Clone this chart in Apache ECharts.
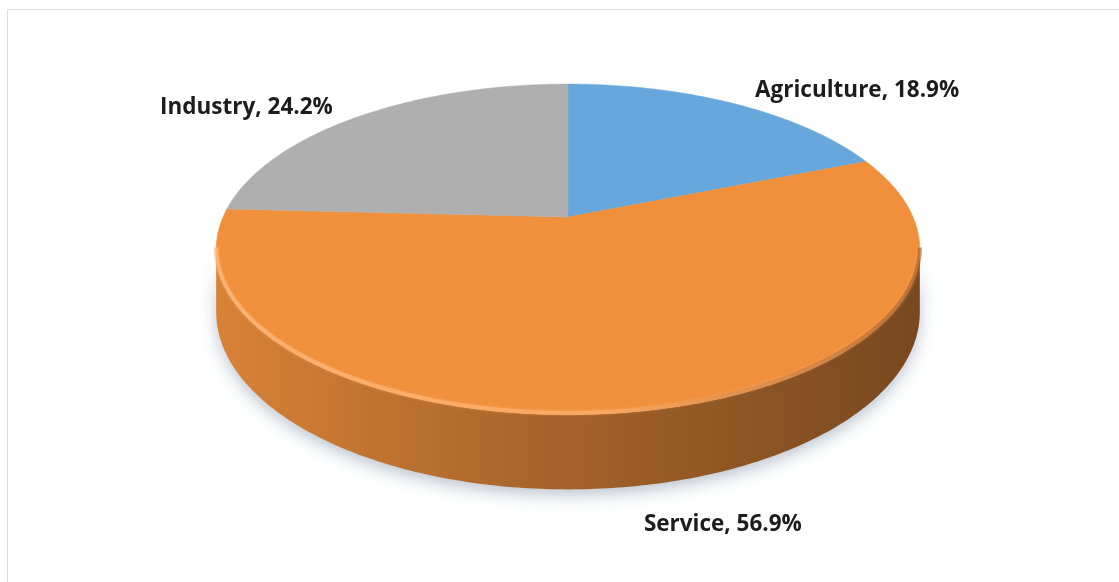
<!DOCTYPE html>
<html>
<head>
<meta charset="utf-8">
<script src="https://cdn.jsdelivr.net/npm/echarts@6/dist/echarts.min.js"></script>
<style>
  html, body { margin: 0; padding: 0; background: #ffffff; }
  #chart { width: 1119px; height: 582px; }
</style>
</head>
<body>
<div id="chart"></div>
<script>
// Sector shares (percent), drawn clockwise from 12 o'clock
const categories = ['Agriculture', 'Service', 'Industry'];
const shares = [18.9, 56.9, 24.2];
const sliceColors = ['#68A7DB', '#F0903D', '#AFAFAF'];

// Tilted-disc view: centre, radii, perspective factor and wall depth
const VIEW = { cx: 568, cy: 217, rx: 345, ry: 159, k: 0.196, depth: 60 };

// Label placement relative to each slice's outer rim point
const LABEL_LAYOUT = {
  Agriculture: { dx: 21, dy: -13, align: 'left' },
  Service: { dx: 84, dy: 39, align: 'center' },
  Industry: { dx: -27, dy: -9, align: 'right' }
};

function project(theta, r, drop) {
  const u = r * Math.sin(theta), v = -r * Math.cos(theta);
  const w = 1 - VIEW.k * v;
  return [VIEW.cx + VIEW.rx * u / w, VIEW.cy + VIEW.ry * v / w + (drop ? VIEW.depth / w : 0)];
}

function arc(a0, a1, drop) {
  const pts = [];
  const n = Math.max(2, Math.ceil((a1 - a0) / (Math.PI / 240)));
  for (let i = 0; i <= n; i++) pts.push(project(a0 + (a1 - a0) * i / n, 1, drop));
  return pts;
}

function shade(hex, f) {
  const n = parseInt(hex.slice(1), 16);
  const c = [(n >> 16) & 255, (n >> 8) & 255, n & 255].map(x => Math.round(x * f));
  return 'rgb(' + c.join(',') + ')';
}

const total = shares.reduce((s, v) => s + v, 0);
const startAngles = [];
shares.reduce((acc, v) => { startAngles.push(acc / total * Math.PI * 2); return acc + v; }, 0);

// Front wall is visible between the two horizontal extremes of the rim
const SIDE_R = Math.acos(-VIEW.k);
const SIDE_L = Math.PI * 2 - SIDE_R;
const leftX = VIEW.cx - VIEW.rx / Math.sqrt(1 - VIEW.k * VIEW.k);
const rightX = VIEW.cx + VIEW.rx / Math.sqrt(1 - VIEW.k * VIEW.k);

function renderSlice(params, api) {
  const i = params.dataIndex;
  const val = api.value(0);
  const a0 = startAngles[i];
  const a1 = a0 + val / total * Math.PI * 2;
  const color = sliceColors[i];
  const children = [];

  // outer wall
  const s0 = Math.max(a0, SIDE_R), s1 = Math.min(a1, SIDE_L);
  if (s1 > s0) {
    const top = arc(s0, s1, false);
    const bottom = arc(s0, s1, true).reverse();
    children.push({
      type: 'polygon',
      z2: 1,
      shape: { points: top.concat(bottom) },
      style: {
        fill: {
          type: 'linear', x: leftX, y: 0, x2: rightX, y2: 0, global: true,
          colorStops: [
            { offset: 0, color: shade(color, 0.9) },
            { offset: 0.5, color: shade(color, 0.68) },
            { offset: 1, color: shade(color, 0.5) }
          ]
        },
        shadowBlur: 16,
        shadowOffsetY: 6,
        shadowColor: 'rgba(70,90,120,0.35)'
      }
    });
    // rounded rim catching the light
    children.push({
      type: 'polyline',
      z2: 12,
      shape: { points: top.map(p => [p[0], p[1] - 2]) },
      style: {
        fill: null,
        lineWidth: 4,
        shadowBlur: 3,
        shadowColor: 'rgba(255,190,130,0.6)',
        stroke: {
          type: 'linear', x: leftX, y: 0, x2: rightX, y2: 0, global: true,
          colorStops: [
            { offset: 0, color: 'rgba(255,185,125,0.7)' },
            { offset: 0.55, color: 'rgba(255,180,115,0.5)' },
            { offset: 1, color: 'rgba(150,80,30,0.55)' }
          ]
        }
      }
    });
  }

  // top face
  const face = [[VIEW.cx, VIEW.cy]].concat(arc(a0, a1, false));
  children.push({
    type: 'polygon',
    z2: 10,
    shape: { points: face },
    style: { fill: color, stroke: color, lineWidth: 0.5 }
  });

  // label
  const mid = (a0 + a1) / 2;
  const name = categories[i];
  const lay = LABEL_LAYOUT[name];
  const rim = project(mid, 1, Math.cos(mid) < 0);
  children.push({
    type: 'text',
    z2: 20,
    x: rim[0] + lay.dx,
    y: rim[1] + lay.dy,
    style: {
      text: name + ', ' + val.toFixed(1) + '%',
      fill: '#1c1c1c',
      font: 'bold 22.5px "Open Sans", sans-serif',
      align: lay.align,
      verticalAlign: 'middle'
    }
  });

  return { type: 'group', children: children };
}

const chart = echarts.init(document.getElementById('chart'), null, { renderer: 'canvas' });
chart.setOption({
  backgroundColor: '#ffffff',
  animation: false,
  graphic: [{
    type: 'rect',
    shape: { x: 7.5, y: 9.5, width: 1300, height: 700 },
    style: { fill: null, stroke: '#dcdcdc', lineWidth: 1 },
    silent: true
  }],
  series: [{
    type: 'custom',
    coordinateSystem: 'none',
    renderItem: renderSlice,
    data: shares.map((v, i) => ({ name: categories[i], value: [v] }))
  }]
});
</script>
</body>
</html>
